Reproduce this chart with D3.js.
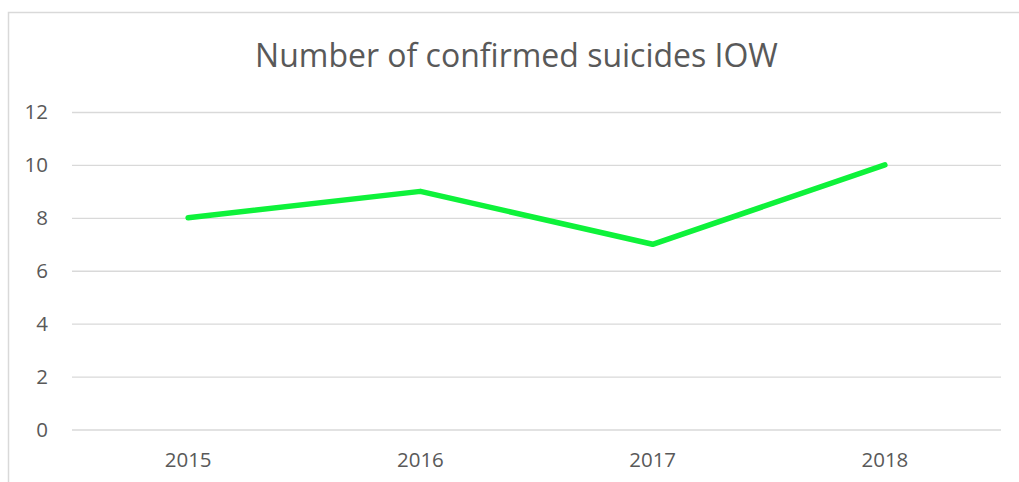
<!DOCTYPE html>
<html>
<head>
<meta charset="utf-8">
<script src="https://cdn.jsdelivr.net/npm/d3@7"></script>
<style>
  html, body { margin: 0; padding: 0; background: #fff; }
  svg { display: block; }
  text { font-family: "Open Sans", sans-serif; fill: #595959; }
</style>
</head>
<body>
<svg id="chart" width="1019" height="482"></svg>
<script>
const years = ["2015", "2016", "2017", "2018"];
const suicides = [8, 9, 7, 10];
const yTicks = [0, 2, 4, 6, 8, 10, 12];
const chartTitle = "Number of confirmed suicides IOW";

const svg = d3.select("#chart");
const W = 1019, H = 482;
const plot = { left: 72, right: 1001, top: 112, bottom: 429.5 };

// outer chart border
svg.append("rect")
  .attr("x", 8.5).attr("y", 12.5)
  .attr("width", W + 10).attr("height", H + 10)
  .attr("fill", "none").attr("stroke", "#d9d9d9").attr("stroke-width", 1.5);

const x = d3.scaleBand().domain(years).range([plot.left, plot.right]);
const y = d3.scaleLinear().domain([0, 12]).range([plot.bottom, plot.top]);

// gridlines
const yAxis = d3.axisLeft(y).tickValues(yTicks).tickSize(-(plot.right - plot.left)).tickPadding(24);
const gy = svg.append("g").attr("transform", `translate(${plot.left},0)`).call(yAxis);
gy.select(".domain").remove();
gy.selectAll(".tick line").attr("stroke", "#d9d9d9").attr("stroke-width", 1.3);
gy.selectAll(".tick text").attr("font-size", 20.5).attr("fill", "#595959")
  .attr("font-family", "Open Sans, sans-serif");

// x axis labels
const xAxis = d3.axisBottom(x).tickSize(0).tickPadding(23);
const gx = svg.append("g").attr("transform", `translate(0,${plot.bottom})`).call(xAxis);
gx.select(".domain").remove();
gx.selectAll(".tick text").attr("font-size", 20.5).attr("fill", "#595959")
  .attr("font-family", "Open Sans, sans-serif");

// line
const line = d3.line()
  .x((d, i) => x(years[i]) + x.bandwidth() / 2)
  .y(d => y(d));
svg.append("path")
  .datum(suicides)
  .attr("d", line)
  .attr("fill", "none")
  .attr("stroke", "#0ef23a")
  .attr("stroke-width", 5.5)
  .attr("stroke-linecap", "round")
  .attr("stroke-linejoin", "round");

// title
const t = svg.append("text")
  .attr("x", 516.5).attr("y", 67)
  .attr("text-anchor", "middle")
  .attr("font-size", 28)
  .attr("fill", "#595959")
  .text(chartTitle);
const tw = t.node().getComputedTextLength();
t.attr("font-size", 28 * 523 / tw);
</script>
</body>
</html>
